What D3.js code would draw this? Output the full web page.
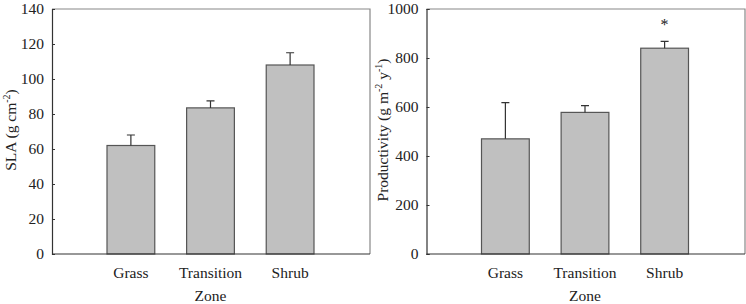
<!DOCTYPE html>
<html><head><meta charset="utf-8">
<script src="https://cdn.jsdelivr.net/npm/d3@7"></script>
<style>body{margin:0;background:#fff}svg{display:block}text{font-family:"Liberation Serif","Times New Roman",serif;fill:#222}</style>
</head><body>
<svg id="c" width="746" height="304"></svg>
<script>
const categories = ["Grass", "Transition", "Shrub"];
const slaValues = [62, 83.5, 108];
const slaErrors = [6, 4, 7];
const prodValues = [470, 578, 840];
const prodErrors = [148, 28, 28];
const slaTicks = [0, 20, 40, 60, 80, 100, 120, 140];
const prodTicks = [0, 200, 400, 600, 800, 1000];
const prodMarks = ["", "", "*"];

const svg = d3.select("#c");
const plotTop = 9, plotBottom = 254;

function panel(cfg) {
  const g = svg.append("g");
  const x = d3.scaleBand().domain(categories).range([cfg.x0 + 55, cfg.x0 + 262]).paddingInner(0.4).paddingOuter(0);
  const y = d3.scaleLinear().domain([0, cfg.max]).range([plotBottom, plotTop]);
  g.append("path").attr("d", `M${cfg.x0},${plotTop}H${cfg.x1}V${plotBottom}`).attr("fill", "none").attr("stroke", "#888").attr("stroke-width", 1.2);
  g.selectAll("rect").data(cfg.values).join("rect")
    .attr("x", (d, i) => x(categories[i])).attr("width", x.bandwidth())
    .attr("y", d => y(d)).attr("height", d => plotBottom - y(d))
    .attr("fill", "#c0c0c0").attr("stroke", "#555").attr("stroke-width", 1.2);
  cfg.values.forEach((v, i) => {
    const cx = x(categories[i]) + x.bandwidth() / 2;
    const ye = y(v + cfg.errors[i]);
    g.append("path").attr("d", `M${cx},${y(v)}V${ye}M${cx - 4},${ye}H${cx + 4}`)
      .attr("stroke", "#333").attr("stroke-width", 1.2).attr("fill", "none");
    if (cfg.marks && cfg.marks[i]) {
      g.append("text").attr("x", cx).attr("y", y(cfg.max * 0.94) + 6).attr("text-anchor", "middle")
        .attr("font-size", 16).text(cfg.marks[i]);
    }
  });
  const ya = d3.axisLeft(y).tickValues(cfg.ticks).tickSize(-3).tickPadding(8).tickFormat(d3.format("d"));
  const yg = g.append("g").attr("transform", `translate(${cfg.x0},0)`).call(ya);
  yg.select(".domain").attr("stroke", "#333").attr("stroke-width", 1.2);
  yg.selectAll(".tick line").attr("stroke", "#333");
  yg.selectAll(".tick text").attr("font-size", 15.5).attr("font-family", "Liberation Serif").attr("fill", "#222");
  const xa = d3.axisBottom(x).tickSize(0).tickPadding(13);
  const xg = g.append("g").attr("transform", `translate(0,${plotBottom})`).call(xa);
  xg.select(".domain").remove();
  g.append("line").attr("x1", cfg.x0).attr("x2", cfg.x1).attr("y1", plotBottom).attr("y2", plotBottom).attr("stroke", "#333").attr("stroke-width", 1.2);
  xg.selectAll(".tick text").attr("font-size", 15.5).attr("font-family", "Liberation Serif").attr("fill", "#222");
  g.append("text").attr("x", x.range()[0] + (x.range()[1] - x.range()[0]) / 2).attr("y", 301).attr("text-anchor", "middle").attr("font-size", 15.5).text("Zone");
  const t = g.append("text").attr("transform", `translate(${cfg.titleX},${130}) rotate(-90)`).attr("text-anchor", "middle").attr("font-size", 15.5);
  cfg.title(t);
}

panel({
  x0: 52, x1: 370, max: 140, values: slaValues, errors: slaErrors, ticks: slaTicks, titleX: 16,
  title: t => { t.append("tspan").text("SLA (g cm"); t.append("tspan").attr("dy", -6).attr("font-size", 10).text("-2"); t.append("tspan").attr("dy", 6).text(")"); }
});
panel({
  x0: 426.5, x1: 745, max: 1000, values: prodValues, errors: prodErrors, ticks: prodTicks, titleX: 388, marks: prodMarks,
  title: t => { t.append("tspan").text("Productivity (g m"); t.append("tspan").attr("dy", -6).attr("font-size", 10).text("-2"); t.append("tspan").attr("dy", 6).text(" y"); t.append("tspan").attr("dy", -6).attr("font-size", 10).text("-1"); t.append("tspan").attr("dy", 6).text(")"); }
});
</script>
</body></html>
